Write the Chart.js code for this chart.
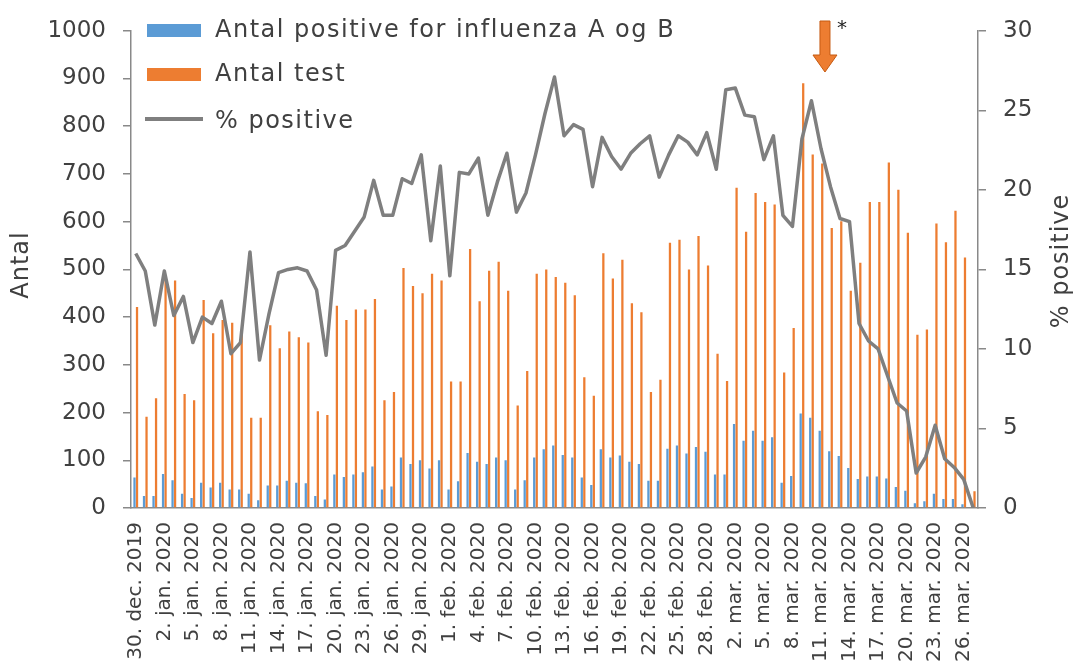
<!DOCTYPE html>
<html><head><meta charset="utf-8">
<script src="https://cdn.jsdelivr.net/npm/chart.js@4"></script>
<style>html,body{margin:0;padding:0;background:#fff;}#wrap{width:1077px;height:669px;}</style>
</head><body><div id="wrap"><canvas id="c" width="1077" height="669"></canvas></div>
<script>
const categories = [
"30. dec. 2019","31. dec. 2019",
"1. jan. 2020","2. jan. 2020","3. jan. 2020","4. jan. 2020","5. jan. 2020","6. jan. 2020","7. jan. 2020","8. jan. 2020","9. jan. 2020","10. jan. 2020",
"11. jan. 2020","12. jan. 2020","13. jan. 2020","14. jan. 2020","15. jan. 2020","16. jan. 2020","17. jan. 2020","18. jan. 2020","19. jan. 2020","20. jan. 2020",
"21. jan. 2020","22. jan. 2020","23. jan. 2020","24. jan. 2020","25. jan. 2020","26. jan. 2020","27. jan. 2020","28. jan. 2020","29. jan. 2020","30. jan. 2020","31. jan. 2020",
"1. feb. 2020","2. feb. 2020","3. feb. 2020","4. feb. 2020","5. feb. 2020","6. feb. 2020","7. feb. 2020","8. feb. 2020","9. feb. 2020","10. feb. 2020",
"11. feb. 2020","12. feb. 2020","13. feb. 2020","14. feb. 2020","15. feb. 2020","16. feb. 2020","17. feb. 2020","18. feb. 2020","19. feb. 2020","20. feb. 2020",
"21. feb. 2020","22. feb. 2020","23. feb. 2020","24. feb. 2020","25. feb. 2020","26. feb. 2020","27. feb. 2020","28. feb. 2020","29. feb. 2020",
"1. mar. 2020","2. mar. 2020","3. mar. 2020","4. mar. 2020","5. mar. 2020","6. mar. 2020","7. mar. 2020","8. mar. 2020","9. mar. 2020","10. mar. 2020",
"11. mar. 2020","12. mar. 2020","13. mar. 2020","14. mar. 2020","15. mar. 2020","16. mar. 2020","17. mar. 2020","18. mar. 2020","19. mar. 2020","20. mar. 2020",
"21. mar. 2020","22. mar. 2020","23. mar. 2020","24. mar. 2020","25. mar. 2020","26. mar. 2020","27. mar. 2020"
];
const positives = [
64,25,25,71,58,30,21,53,43,53,39,39,30,16,47,47,57,53,52,25,18,70,65,70,75,87,39,45,106,92,
100,83,100,39,56,115,97,92,106,100,39,58,106,123,131,111,106,64,48,123,106,110,97,92,57,57,124,131,114,128,
118,70,70,176,141,162,141,148,53,67,198,189,162,119,109,84,61,66,66,62,44,36,10,14,30,19,19,8,0
];
const tests = [
421,191,230,485,477,239,226,436,366,394,388,370,189,189,383,335,370,358,347,203,195,424,394,416,416,438,226,243,503,465,
450,491,477,265,265,543,433,497,516,455,215,287,491,500,484,472,446,274,235,534,481,520,429,410,243,269,556,562,500,570,
508,323,266,671,579,660,641,636,284,377,890,741,722,587,601,455,514,641,641,724,667,577,363,374,596,557,623,525,35
];
const pctPositive = [
16.0,14.9,11.5,14.9,12.1,13.3,10.4,12.0,11.6,13.0,9.7,10.4,16.1,9.3,12.2,14.8,15.0,15.1,14.9,13.7,9.6,16.2,16.5,17.4,18.3,20.6,18.4,18.4,20.7,20.4,
22.2,16.8,21.5,14.6,21.1,21.0,22.0,18.4,20.5,22.3,18.6,19.8,22.2,24.8,27.1,23.4,24.1,23.8,20.2,23.3,22.1,21.3,22.3,22.9,23.4,20.8,22.2,23.4,23.0,22.2,
23.6,21.3,26.3,26.4,24.7,24.6,21.9,23.4,18.4,17.7,23.2,25.6,22.6,20.2,18.2,18.0,11.6,10.5,10.0,8.3,6.6,6.1,2.2,3.2,5.2,3.1,2.55,1.8,0
];
const seriesNames = ["Antal positive for influenza A og B","Antal test","% positive"];
const leftAxisTitle = "Antal";
const rightAxisTitle = "% positive";
const markerIndex = 72;   // arrow marker over 11. mar.
const markerNote = "*";

const TXT = '#404040', AX = '#898989';
const BLUE = '#5B9BD5', ORANGE = '#ED7D31', GREY = '#7F7F7F';

const extras = {
  id: 'extras',
  afterDraw(chart) {
    const ctx = chart.ctx;
    ctx.save();
    ctx.fillStyle = TXT;
    ctx.font = '24px "DejaVu Sans"';
    ctx.letterSpacing = '1px';
    ctx.textAlign = 'center';
    ctx.textBaseline = 'middle';
    ctx.save(); ctx.translate(22, 265); ctx.rotate(-Math.PI/2); ctx.fillText(leftAxisTitle, 0, 0); ctx.restore();
    ctx.save(); ctx.translate(1062, 261); ctx.rotate(-Math.PI/2); ctx.fillText(rightAxisTitle, 0, 0); ctx.restore();
    ctx.textAlign = 'left';
    ctx.font = '24px "DejaVu Sans"';
    ctx.letterSpacing = '1.5px';
    ctx.fillStyle = BLUE; ctx.fillRect(147, 24, 54, 13);
    ctx.fillStyle = ORANGE; ctx.fillRect(147, 68, 54, 13);
    ctx.strokeStyle = GREY; ctx.lineWidth = 4; ctx.beginPath(); ctx.moveTo(145, 119); ctx.lineTo(203, 119); ctx.stroke();
    ctx.fillStyle = TXT;
    ctx.fillText(seriesNames[0], 215, 31);
    ctx.fillText(seriesNames[1], 215, 75);
    ctx.fillText(seriesNames[2], 215, 122);
    const x = chart.scales.x.getPixelForValue(markerIndex) + 4;
    ctx.fillStyle = ORANGE; ctx.strokeStyle = '#C55A11'; ctx.lineWidth = 1;
    ctx.beginPath();
    ctx.moveTo(x - 5, 21); ctx.lineTo(x + 5, 21); ctx.lineTo(x + 5, 55);
    ctx.lineTo(x + 12, 55); ctx.lineTo(x, 72); ctx.lineTo(x - 12, 55); ctx.lineTo(x - 5, 55);
    ctx.closePath(); ctx.fill(); ctx.stroke();
    ctx.fillStyle = '#222'; ctx.font = '20px "DejaVu Sans"'; ctx.letterSpacing = '0px';
    ctx.textAlign = 'center';
    ctx.fillText(markerNote, x + 17, 29);
    ctx.restore();
  }
};

new Chart(document.getElementById('c'), {
  data: {
    labels: categories,
    datasets: [
      { type: 'line', label: seriesNames[2], data: pctPositive, yAxisID: 'y1', borderColor: GREY, borderWidth: 3.5,
        pointRadius: 0, tension: 0, borderJoinStyle: 'round', order: 0 },
      { type: 'bar', label: seriesNames[0], data: positives, yAxisID: 'y', backgroundColor: BLUE,
        categoryPercentage: 0.53, barPercentage: 0.9, order: 1 },
      { type: 'bar', label: seriesNames[1], data: tests, yAxisID: 'y', backgroundColor: ORANGE,
        categoryPercentage: 0.53, barPercentage: 0.9, order: 2 }
    ]
  },
  options: {
    responsive: false, animation: false, devicePixelRatio: 1,
    layout: { padding: { top: 22, left: 0, right: 0, bottom: 0 } },
    plugins: { legend: { display: false }, tooltip: { enabled: false } },
    scales: {
      x: {
        type: 'category', offset: true,
        grid: { display: false },
        border: { display: true, color: AX, width: 1.5 },
        ticks: { autoSkip: false, maxRotation: 90, minRotation: 90, padding: 6, color: TXT,
          font: { family: 'DejaVu Sans', size: 20 },
          callback: function(v, i) { return i % 3 === 0 ? categories[i] : ''; } },
        afterFit(s) { s.height = 161; }
      },
      y: {
        position: 'left', min: 0, max: 1000,
        ticks: { stepSize: 100, padding: 17, color: TXT, font: { family: 'DejaVu Sans', size: 23 },
          callback: function(v) { return String(v); } },
        grid: { drawOnChartArea: false, drawTicks: true, tickLength: 8, color: AX, lineWidth: 1.5 },
        border: { display: true, color: AX, width: 1.5 },
        afterFit(s) { s.width = 131; }
      },
      y1: {
        position: 'right', min: 0, max: 30,
        ticks: { stepSize: 5, padding: 17, color: TXT, font: { family: 'DejaVu Sans', size: 23 },
          callback: function(v) { return String(v); } },
        grid: { drawOnChartArea: false, drawTicks: true, tickLength: 8, color: AX, lineWidth: 1.5 },
        border: { display: true, color: AX, width: 1.5 },
        afterFit(s) { s.width = 99; }
      }
    }
  },
  plugins: [extras]
});
</script></body></html>
